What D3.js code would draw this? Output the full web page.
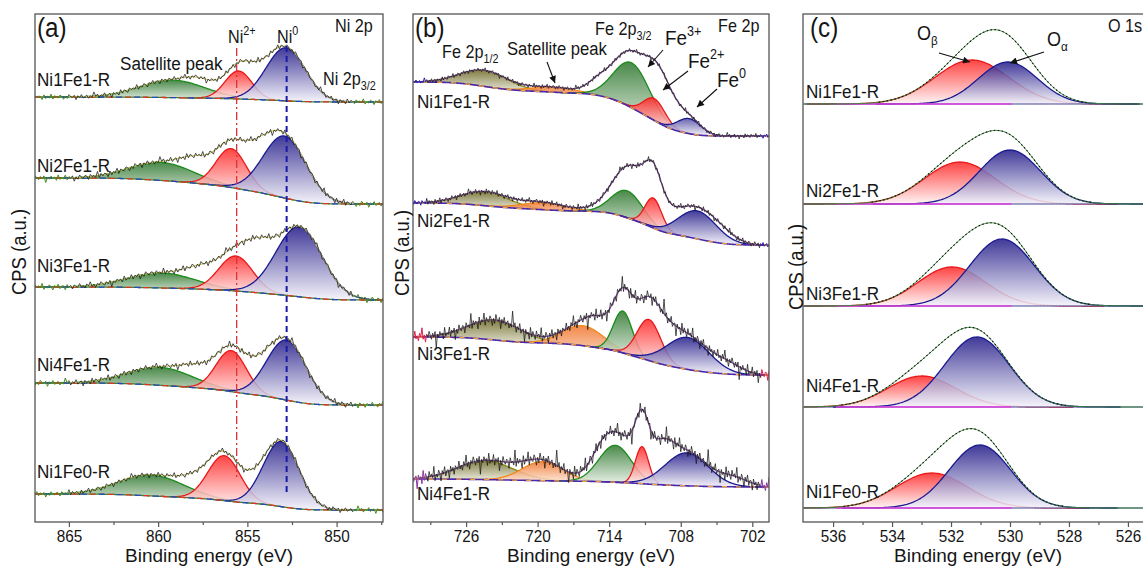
<!DOCTYPE html>
<html><head><meta charset="utf-8">
<script src="https://cdn.jsdelivr.net/npm/d3@7"></script>
<style>body{margin:0;background:#fff;overflow:hidden} text{font-family:Arial,"Liberation Sans",sans-serif;fill:#151515}</style>
</head><body><svg id="c" width="1143" height="567"></svg>
<script>
// ---------------- data ----------------
// peak parameters: [binding energy (eV), height (a.u.), sigma (eV)]
const samplesA = ["Ni1Fe1-R","Ni2Fe1-R","Ni3Fe1-R","Ni4Fe1-R","Ni1Fe0-R"];
const bgA   = [[425,420],[344,318],[235,222],[139,117],[28,12]];   // background at high / low BE end
const satA  = [[859.2,17.5,1.8],[859.8,18,1.8],[859.8,15,1.9],[859.9,18,1.8],[860.4,21,1.8]];
const ni2A  = [[855.5,28,0.75],[855.9,39,0.85],[855.65,35,0.95],[855.9,41,0.85],[856.3,45,0.9]];
const ni0A  = [[852.85,53,1.1],[852.9,62,1.2],[852.1,70,1.3],[852.8,60,1.1],[853.1,65,1.0]];
const extraA= [[[857.6,8,0.8],[854.4,9,0.8]],[[857.8,15,0.9],[854.4,18,0.8]],[[857.6,13,0.9],[854.3,26,0.8]],[[857.8,12,0.9],[854.3,11,0.8]],[[858.0,10,0.9],[854.6,7,0.8]]];
const noiseAmpA = [2.6,3,3,3,2.6];
const refLinesA = [855.6, 852.8];
const ticksA = [865,860,855,850], minorA = [862.5,857.5,852.5,847.5];

const samplesB = ["Ni1Fe1-R","Ni2Fe1-R","Ni3Fe1-R","Ni4Fe1-R"];
const bgB   = [[440,386],[319,277],[185,147],[43,35]];
const fe12B = [[724.45,16,2.0],[724.4,14,2.0],[723.6,20,2.2],[724.4,19,2.3]];
const satB  = [[718.7,5,1.8],[719.5,7,1.8],[716.2,20,1.7],[719.6,19,1.7]];
const fe3B  = [[712.1,45,1.5],[712.5,27,1.3],[712.85,42,0.8],[713.5,37,1.35]];
const fe2B  = [[710.2,22,0.9],[710.3,30,0.7],[710.67,41,1.0],[711.25,37,0.55]];
const fe0B  = [[707.3,15,1.0],[706.6,28,1.6],[707.4,32,1.8],[707.5,33,1.8]];
const extraB= [[[715.0,9,0.9],[712.6,10,1.6],[709.2,25,1.0]],
               [[711.2,30,2.1],[704.5,6,1.2]],
               [[715.0,10,1.0],[712.0,17,2.0],[709.0,9,1.0],[704.0,8,1.2]],
               [[714.6,14,1.0],[711.0,23,1.5],[709.4,14,0.9],[703.5,8,1.2]]];
const noiseAmpB = [2.2,2.8,5,5.5];
const edgeB = ["#2a20b0","#2a20b0","#e0204a","#8a3aa0"];
const ticksB = [726,720,714,708,702], minorB = [729,723,717,711,705];

const samplesC = ["Ni1Fe1-R","Ni2Fe1-R","Ni3Fe1-R","Ni4Fe1-R","Ni1Fe0-R"];
const bgC  = [418,318,216,115,14];
const obC  = [[531.29,44,1.25],[531.70,42,1.2],[531.97,39,1.15],[532.99,31,1.15],[532.65,35,1.2]];
const oaC  = [[530.07,42,1.0],[530.0,54,1.04],[530.27,67,1.09],[531.12,70,1.09],[531.02,63,1.04]];
const ticksC = [536,534,532,530,528,526], minorC = [537,535,533,531,529,527,525];

// hand-typed measurement scatter pattern
const noise = [0.3,-0.6,0.9,-0.2,0.5,-1.0,0.1,0.7,-0.4,0.2,-0.8,1.2,-0.3,0.4,-0.1,0.8,-0.7,0.0,0.6,-0.5,1.0,-0.9,0.2,-0.3,0.5,-1.3,0.4,0.1,-0.6,0.9,-0.2,0.3,-0.8,0.7,-0.1,1.6,-0.4,0.2,-0.7,0.5,0.0,-0.5,0.8,-0.3,0.4,-1.1,0.6,-0.2,0.1,0.9,-0.6,0.3,-0.9,0.2,0.7,-0.4,-0.1,0.5,-0.8,1.1,-0.2,0.3,-0.6,0.8,-1.0,0.1,0.4,-0.3,0.6,-0.7,1.4,-0.5,0.2,-0.1,0.7,-0.9,0.3,0.5,-0.4,0.0,0.8,-0.6,0.2,-1.2,0.6,-0.2,0.4,-0.7,0.9,-0.3,0.1,-0.5,1.0,-0.8,0.3,-0.1,0.6,-0.4,0.2,-1.5,0.7,-0.3,0.5,-0.6,0.1,0.8,-0.2,0.4,-0.9,0.3,-0.5,1.2,-0.1,0.6,-0.7,0.2,-0.4,0.9,-0.3,0.0,0.5,-0.8,0.4,-0.2,0.7,-1.0,0.3];

// ---------------- drawing ----------------
const SX = 0.9;
const svg = d3.select("#c");
const defs = svg.append("defs");
const yS = d3.scaleLinear().domain([0,508]).range([522,14]);

function grad(id, top, bottom){
  const g = defs.append("linearGradient").attr("id",id).attr("x1",0).attr("y1",0).attr("x2",0).attr("y2",1);
  g.append("stop").attr("offset",0).attr("stop-color",top);
  g.append("stop").attr("offset",1).attr("stop-color",bottom);
}
grad("gGreen","#2c762c","#eef4ec");
grad("gRed","#ff2525","#fff3f3");
grad("gBlue","#221a88","#f4f2fa");
grad("gOlive","#6c6824","#f0f0e4");
grad("gOrange","#f0742a","#fde8da");

const mk = defs.append("marker").attr("id","arr").attr("viewBox","0 0 10 10").attr("refX",10).attr("refY",5)
  .attr("markerWidth",9).attr("markerHeight",7).attr("markerUnits","userSpaceOnUse").attr("orient","auto");
mk.append("path").attr("d","M0,0L10,5L0,10z").attr("fill","#111");

function gauss(E,p){ return p[1]*Math.exp(-((E-p[0])*(E-p[0]))/(2*p[2]*p[2])); }

function spectrum(dom, peaks, L, R, step){
  const Es=[]; for(let E=dom[1]; E<=dom[0]+1e-9; E+=step) Es.push(E);
  const sig = Es.map(E=>d3.sum(peaks,p=>gauss(E,p)));
  let acc=0; const cum = sig.map(s=>(acc+=s*step));
  const tot = acc||1;
  const bg = cum.map(c=>R+(L-R)*c/tot);
  return Es.map((E,i)=>({E, b:bg[i], s:sig[i]}));
}

function T(x,y,str,size,anchor){
  return svg.append("text").attr("transform",`translate(${x},${y}) scale(${SX},1)`)
    .attr("font-size",size).attr("text-anchor",anchor||"start").text(str);
}
function sup(t,str,size,dy){ t.append("tspan").attr("dy",dy).attr("font-size",size).text(str); return t; }

function drawPanel(P){
  const xS = d3.scaleLinear().domain(P.dom).range([P.x0,P.x1]);
  defs.append("clipPath").attr("id","clip"+P.id).append("rect")
    .attr("x",P.x0).attr("y",14).attr("width",P.x1-P.x0).attr("height",508);
  const body = svg.append("g").attr("clip-path",`url(#clip${P.id})`);
  const area = d3.area().x(d=>xS(d.E)).y0(d=>yS(d.b)).y1(d=>yS(d.b+d.v));
  const ln = d3.line().x(d=>xS(d.E)).y(d=>yS(d.b+d.v));
  P.samples.forEach((name,k)=>{
    const comps = P.comps.map(c=>c.data[k]);
    const peaks = comps.concat(P.extras ? P.extras[k] : []);
    const L = P.bgL(k), R = P.bgR(k);
    const pts = spectrum(P.dom, peaks, L, R, 0.05);
    P.comps.forEach(c=>{
      const p = c.data[k];
      const seg = pts.filter(d=>Math.abs(d.E-p[0])<=P.span*p[2]).map(d=>({E:d.E,b:d.b,v:gauss(d.E,p)}));
      body.append("path").datum(seg).attr("d",area).attr("fill",`url(#${c.grad})`).attr("fill-opacity",0.86);
      body.append("path").datum(seg).attr("d",ln).attr("fill","none").attr("stroke",c.stroke).attr("stroke-width",1.3);
    });
    const bgPts = pts.map(d=>({E:d.E,b:d.b,v:0}));
    P.bgStyles.forEach(st=>{
      const pth = body.append("path").datum(bgPts.filter(d=>d.E<=st.from && d.E>=st.to)).attr("d",ln).attr("fill","none")
        .attr("stroke",st.color).attr("stroke-width",st.w);
      if(st.dash) pth.attr("stroke-dasharray",st.dash).attr("stroke-dashoffset",st.off||0);
    });
    if(P.noiseAmp){
      const amp = P.noiseAmp[k];
      const raw = pts.filter((d,i)=>i%2===0).map((d,j)=>{
        const n = noise[(j + k*37) % noise.length];
        return {E:d.E, b:d.b, v:d.s + amp*n + (P.spiky && amp>4 ? 1.6*n*n*n : 0)};
      });
      const inFit = raw.filter(d=>d.E<=P.fit[0] && d.E>=P.fit[1]);
      const left = raw.filter(d=>d.E>=P.fit[0]-0.1), right = raw.filter(d=>d.E<=P.fit[1]+0.1);
      const ec = P.edge ? P.edge[k] : P.edgeColor;
      [left,right].forEach(s=>body.append("path").datum(s).attr("d",ln).attr("fill","none").attr("stroke",ec).attr("stroke-width",1));
      body.append("path").datum(pts.filter(d=>d.E<=P.fit[0] && d.E>=P.fit[1]).map(d=>({E:d.E,b:d.b,v:d.s})))
        .attr("d",ln).attr("fill","none").attr("stroke",P.envColor).attr("stroke-width",P.envW);
      body.append("path").datum(inFit).attr("d",ln).attr("fill","none").attr("stroke","#1a1a1a").attr("stroke-width",0.75);
    } else {
      const env = pts.map(d=>({E:d.E,b:d.b,v:d.s}));
      body.append("path").datum(env).attr("d",ln).attr("fill","none").attr("stroke",P.envColor).attr("stroke-width",P.envW);
      body.append("path").datum(env.filter(d=>d.v>1.5)).attr("d",ln).attr("fill","none").attr("stroke","#111").attr("stroke-width",1.1).attr("stroke-dasharray","1.5,2.5");
    }
    svg.append("text").attr("transform",`translate(${P.labX},${P.labY[k]}) scale(${SX},1)`)
      .attr("font-size",19).text(name);
  });
  svg.append("rect").attr("x",P.x0).attr("y",14).attr("width",P.x1-P.x0).attr("height",508)
    .attr("fill","none").attr("stroke","#555").attr("stroke-width",1.3);
  const ax = svg.append("g").attr("transform","translate(0,522)")
    .call(d3.axisBottom(xS).tickValues(P.ticks).tickSize(5).tickPadding(2.5).tickFormat(d3.format("d")));
  ax.select(".domain").remove();
  ax.selectAll("line").attr("stroke","#555").attr("stroke-width",1.2);
  ax.selectAll("text").attr("font-size",17).attr("fill","#151515").attr("font-family","Arial,'Liberation Sans',sans-serif").attr("transform",`scale(${SX},1)`);
  const mn = svg.append("g").attr("transform","translate(0,522)")
    .call(d3.axisBottom(xS).tickValues(P.minor.filter(v=>xS(v)>P.x0+1 && xS(v)<P.x1-1)).tickSize(3).tickFormat(""));
  mn.select(".domain").remove();
  mn.selectAll("line").attr("stroke","#555").attr("stroke-width",1.2);
  svg.append("text").attr("x",(P.x0+P.x1)/2).attr("y",562).attr("text-anchor","middle").attr("font-size",19)
    .text("Binding energy (eV)");
  svg.append("text").attr("transform",`translate(${P.yTitleX},${P.yTitleY}) rotate(-90) scale(${SX},1)`).attr("text-anchor","middle")
    .attr("dy","0.35em").attr("font-size",20.5).text("CPS (a.u.)");
  return xS;
}

// Panel (a)
const xa = drawPanel({
  id:"a", dom:[866.9,847.4], x0:35, x1:383, samples:samplesA,
  comps:[{data:satA,grad:"gGreen",stroke:"#1c8a1c"},{data:ni2A,grad:"gRed",stroke:"#e81818"},{data:ni0A,grad:"gBlue",stroke:"#1a1a90"}],
  extras:extraA, bgL:k=>bgA[k][0], bgR:k=>bgA[k][1], span:4,
  bgStyles:[{from:999,to:0,color:"#3a8a2a",w:1.3},{from:999,to:0,color:"#e03030",w:1.3,dash:"6,12"},{from:999,to:0,color:"#3040c0",w:1.3,dash:"6,12",off:9}],
  noiseAmp:noiseAmpA, fit:[865.0,849.0], edgeColor:"#4a8a22", envColor:"#c9c36a", envW:1.1,
  ticks:ticksA, minor:minorA, labX:37, labY:[86,172,272,371,478], yTitleX:19, yTitleY:252
});
svg.append("line").attr("x1",xa(refLinesA[0])).attr("x2",xa(refLinesA[0])).attr("y1",48).attr("y2",477)
  .attr("stroke","#d8343c").attr("stroke-width",1.3).attr("stroke-dasharray","8,3,2,3");
svg.append("line").attr("x1",xa(refLinesA[1])).attr("x2",xa(refLinesA[1])).attr("y1",46).attr("y2",492)
  .attr("stroke","#1a1aa8").attr("stroke-width",2).attr("stroke-dasharray","6,4");
T(37,37,"(a)",27);
T(335,32,"Ni 2p",18);
sup(T(228,43,"Ni",18),"2+",12,-8);
sup(T(277,43,"Ni",18),"0",12,-8);
T(120,70,"Satellite peak",19);
sup(T(323,85,"Ni 2p",18),"3/2",12,5);

// Panel (b)
const xb = drawPanel({
  id:"b", dom:[730.45,700.6], x0:413, x1:769, samples:samplesB,
  comps:[{data:fe12B,grad:"gOlive",stroke:"#8a8a1a"},{data:satB,grad:"gOrange",stroke:"#f08a1a"},{data:fe3B,grad:"gGreen",stroke:"#1c8a1c"},{data:fe2B,grad:"gRed",stroke:"#e81818"},{data:fe0B,grad:"gBlue",stroke:"#1a1a90"}],
  extras:extraB, bgL:k=>bgB[k][0], bgR:k=>bgB[k][1], span:4,
  bgStyles:[{from:999,to:0,color:"#4a2aa8",w:1.6},{from:999,to:0,color:"#f0a040",w:1.3,dash:"5,9"}],
  noiseAmp:noiseAmpB, spiky:true, fit:[729.3,701.2], edge:edgeB, envColor:"#8a5aa0", envW:1.4,
  ticks:ticksB, minor:minorB, labX:417, labY:[108,227,360,500], yTitleX:402, yTitleY:253
});
T(415,37,"(b)",27);
T(718,32,"Fe 2p",18);
sup(T(595,35,"Fe 2p",18),"3/2",12,5);
sup(T(665,45,"Fe",21),"3+",14,-9);
sup(T(688,68,"Fe",21),"2+",14,-9);
sup(T(717,87,"Fe",21),"0",14,-9);
sup(T(442,58,"Fe 2p",18),"1/2",12,5);
T(507,55,"Satellite peak",18.5);
[[547,62,555,83],[663,50,648,67],[688,71,663,90],[717,89,697,107]].forEach(a=>
  svg.append("line").attr("x1",a[0]).attr("y1",a[1]).attr("x2",a[2]).attr("y2",a[3]).attr("stroke","#111").attr("stroke-width",1.1).attr("marker-end","url(#arr)"));

// Panel (c)
const xc = drawPanel({
  id:"c", dom:[537.02,525.15], x0:803, x1:1153, samples:samplesC,
  comps:[{data:obC,grad:"gRed",stroke:"#e81818"},{data:oaC,grad:"gBlue",stroke:"#1a1a90"}],
  extras:null, bgL:k=>bgC[k], bgR:k=>bgC[k], span:4.5,
  bgStyles:[{from:999,to:0,color:"#3a3a8a",w:1},{from:535.9,to:529.9,color:"#e040e0",w:1.4}],
  noiseAmp:null, envColor:"#3a8a3a", envW:1,
  ticks:ticksC, minor:minorC, labX:806, labY:[98,197,300,392,498], yTitleX:796, yTitleY:267
});
T(810,37,"(c)",27);
T(1108,32,"O 1s",18);
sup(T(917,40,"O",20),"β",13,5);
sup(T(1047,46,"O",20),"α",13,5);
[[939,53,970,62],[1044,52,1010,63]].forEach(a=>
  svg.append("line").attr("x1",a[0]).attr("y1",a[1]).attr("x2",a[2]).attr("y2",a[3]).attr("stroke","#111").attr("stroke-width",1.1).attr("marker-end","url(#arr)"));
</script></body></html>
